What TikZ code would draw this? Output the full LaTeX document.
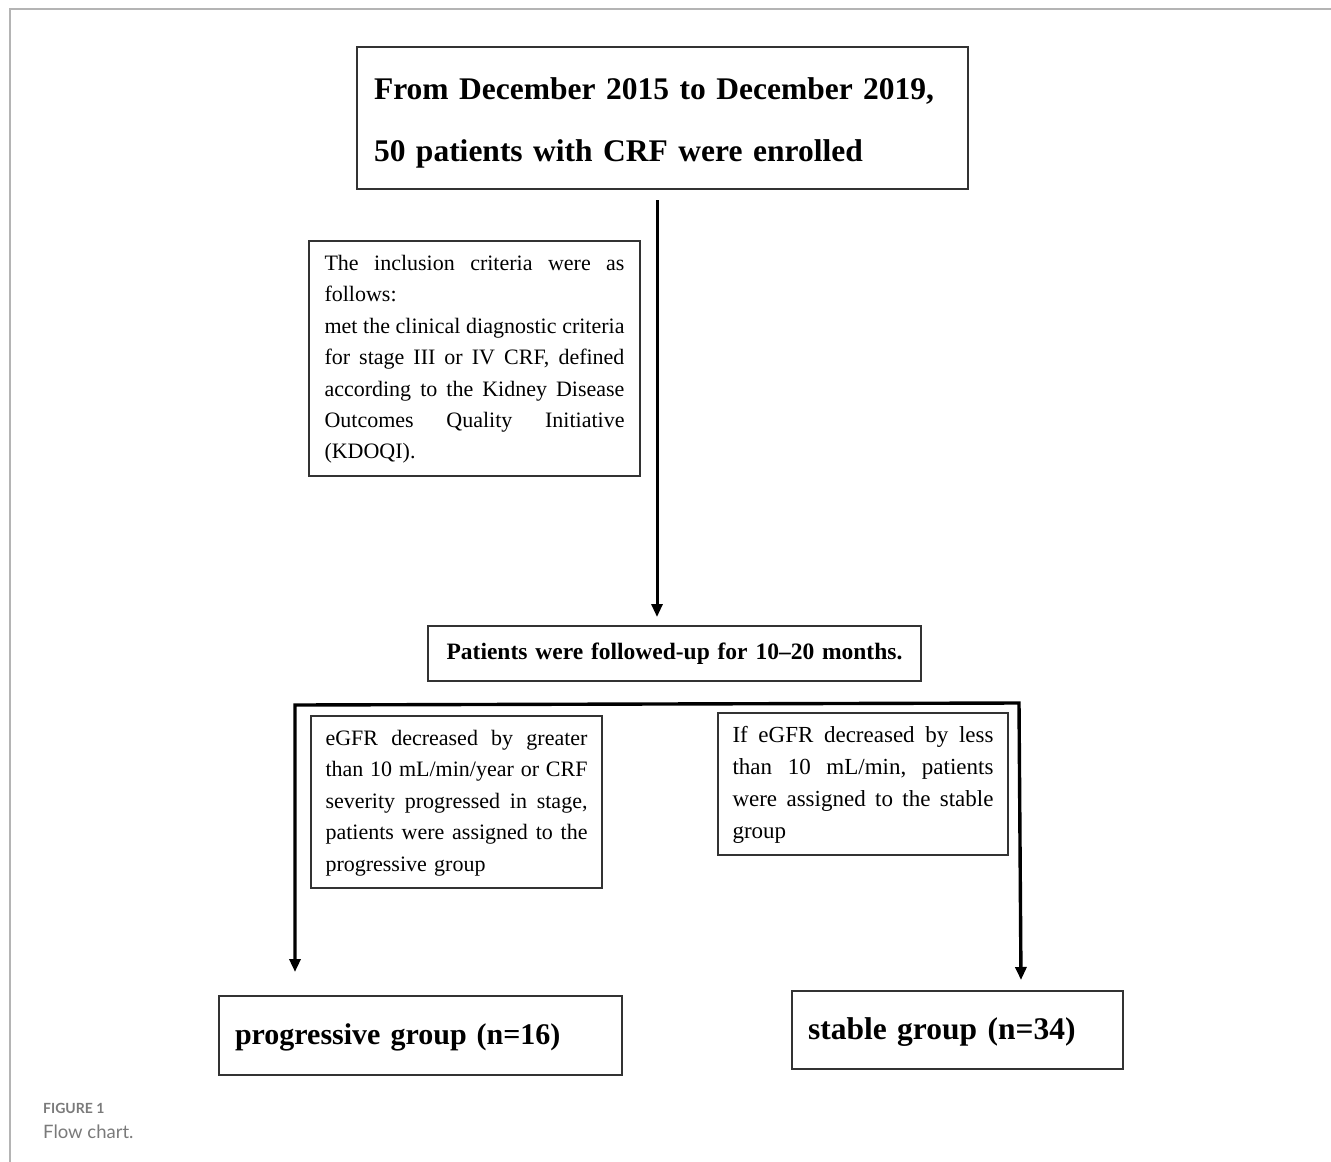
\documentclass[tikz,border=0pt]{standalone}
\usepackage{fontspec}
\setmainfont{Liberation Serif}
\newfontfamily\capfont{Lato}
\usetikzlibrary{arrows.meta}
\definecolor{framegray}{HTML}{B4B4B4}
\definecolor{capgray}{HTML}{7A7A7A}
\definecolor{boxline}{HTML}{333333}
% justified line: words separated by \hfill
\newcommand\jl[2]{\makebox[#1]{\strut #2}}
\newcommand\fl[1]{\mbox{\strut #1}}
\def\g{\hfill}
\tikzset{
  box/.style={draw=boxline, line width=1.4pt, inner ysep=0pt, align=left},
  arr/.style={line width=3pt, -{Triangle[length=13pt,width=11pt]}},
  branch/.style={line width=3.4pt, {Triangle[length=13pt,width=11pt]}-{Triangle[length=13pt,width=11pt]}},
}
\begin{document}
\begin{tikzpicture}[x=1pt,y=-1pt]
\useasboundingbox (0,0) rectangle (1331,1162);
\fill[white] (0,0) rectangle (1331,1162);
\draw[framegray, line width=1.5pt] (10,1162) -- (10,9) -- (1331,9);

% top box
\node (top) [box, text width=577pt, inner xsep=17pt, minimum height=142pt,
  font=\fontsize{31.5}{62}\selectfont\bfseries] at (662.5,118)
  {\fl{From December 2015 to December 2019,}\\ \fl{50 patients with CRF were enrolled}};

% inclusion criteria
\node (incl) [box, text width=300pt, inner xsep=15.5pt, minimum height=235pt,
  font=\fontsize{22}{31.4}\selectfont] at (474.5,358.5)
  {\jl{300pt}{The\g inclusion\g criteria\g were\g as}\\
   \fl{follows:}\\
   \jl{300pt}{met\g the\g clinical\g diagnostic\g criteria}\\
   \jl{300pt}{for\g stage\g III\g or\g IV\g CRF,\g defined}\\
   \jl{300pt}{according\g to\g the\g Kidney\g Disease}\\
   \jl{300pt}{Outcomes\g Quality\g Initiative}\\
   \fl{(KDOQI).}};

% follow-up
\node (follow) [box, text width=462pt, inner xsep=15.5pt, minimum height=55pt, align=center,
  font=\fontsize{23.5}{27.5}\selectfont\bfseries] at (674.5,653.5)
  {\fl{Patients were followed-up for 10--20 months.}};

% left criteria
\node (lcrit) [box, text width=262pt, inner xsep=14.5pt, minimum height=172pt,
  font=\fontsize{22}{31.5}\selectfont] at (456.5,802)
  {\jl{262pt}{eGFR\g decreased\g by\g greater}\\
   \jl{262pt}{than\g 10\g mL/min/year\g or\g CRF}\\
   \jl{262pt}{severity\g progressed\g in\g stage,}\\
   \jl{262pt}{patients\g were\g assigned\g to\g the}\\
   \fl{progressive group}};

% right criteria
\node (rcrit) [box, text width=261pt, inner xsep=14.5pt, minimum height=142pt,
  font=\fontsize{23}{32}\selectfont] at (863,784)
  {\jl{261pt}{If\g eGFR\g decreased\g by\g less}\\
   \jl{261pt}{than\g 10\g mL/min,\g patients}\\
   \jl{261pt}{were\g assigned\g to\g the\g stable}\\
   \fl{group}};

% outcome boxes
\node (prog) [box, text width=371pt, inner xsep=16pt, minimum height=79pt,
  font=\fontsize{30}{45}\selectfont\bfseries] at (420.5,1035.5)
  {\fl{progressive group (n=16)}};
\node (stab) [box, text width=299pt, inner xsep=16pt, minimum height=78pt,
  font=\fontsize{31.5}{45}\selectfont\bfseries] at (957.5,1030)
  {\fl{stable group (n=34)}};

% connectors
\coordinate (a1) at (657,200);
\coordinate (a2) at (657,617);
\draw[arr] (a1) -- (a2);
\coordinate (pl) at (295,972);
\coordinate (bl) at (295,705);
\coordinate (br) at (1019,703);
\coordinate (sr) at (1021,980);
\draw[branch] (pl) -- (bl) -- (br) -- (sr);

% caption
\node (figlab) [anchor=base west, inner sep=0pt, text=capgray,
  font=\capfont\bfseries\fontsize{14}{16}\selectfont] at (43,1113) {FIGURE 1};
\node (figcap) [anchor=base west, inner sep=0pt, text=capgray,
  font=\capfont\fontsize{18.5}{21}\selectfont] at (43,1138) {Flow chart.};
\end{tikzpicture}
\end{document}
